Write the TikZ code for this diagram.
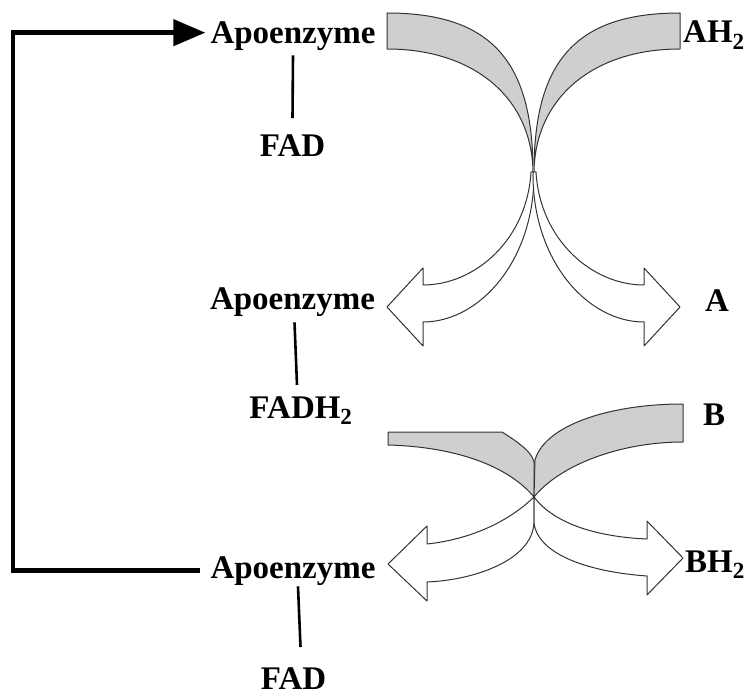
\documentclass[tikz,border=0pt]{standalone}
\usepackage{fontspec}
\setmainfont{Liberation Serif}
\usetikzlibrary{arrows.meta}
\begin{document}
\begin{tikzpicture}[x=1pt,y=-1pt,
  lbl/.style={inner sep=0pt, anchor=base, font=\fontsize{33}{40}\selectfont\bfseries},
  rlbl/.style={lbl, anchor=base west},
  bond/.style={line width=2.6pt},
  loopline/.style={line width=4.5pt},
  band/.style={draw=black!80, line width=1pt, fill=black!19, line join=round},
  hollow/.style={draw=black!80, line width=1pt, fill=white, line join=round}]
\useasboundingbox (0,0) rectangle (745,695);

% labels
\node[lbl] (apoA) at (293,44) {Apoenzyme};
\node[lbl] (fadA) at (292.5,157) {FAD};
\node[lbl] (apoB) at (292.5,310) {Apoenzyme};
\node[lbl] (fadhB) at (301,418) {FADH\textsubscript{2}};
\node[lbl] (apoC) at (293,578) {Apoenzyme};
\node[lbl] (fadC) at (293.5,689) {FAD};
\node[rlbl] (ah2) at (683,43) {AH\textsubscript{2}};
\node[rlbl] (a) at (705,312) {A};
\node[rlbl] (b) at (703,425) {B};
\node[rlbl] (bh2) at (685,572) {BH\textsubscript{2}};

% bonds
\draw[bond] ([yshift=-4pt]apoA.south) -- ([yshift=17pt]fadA.north);
\draw[bond] ([xshift=2pt,yshift=-5pt]apoB.south) -- ([xshift=-4pt,yshift=11pt]fadhB.north);
\draw[bond] ([xshift=5pt,yshift=-1pt]apoC.south) -- ([xshift=7pt,yshift=20pt]fadC.north);

% feedback loop
\coordinate (loopL) at (13,300);
\coordinate (startC) at ([xshift=-10pt]apoC.west);
\coordinate (tipA) at ([xshift=-5pt,yshift=4pt]apoA.west);
\draw[loopline, -{Triangle[length=32pt,width=26pt]}]
  (startC) -- (loopL |- startC) -- (loopL |- tipA) -- (tipA);

% top crossing arrows
\filldraw[band] (387,13) .. controls (492,13) and (533,62) .. (533,172)
  .. controls (532,98) and (474,49) .. (387,49) -- cycle;
\filldraw[band] (680,13) .. controls (575,13) and (534,62) .. (534,172)
  .. controls (535,98) and (593,49) .. (680,49) -- cycle;
\filldraw[hollow] (534,172) .. controls (535,260) and (480,322) .. (423,322)
  -- (423,346) -- (387,307) -- (423,268) -- (423,285)
  .. controls (475,285) and (527,240) .. (531,172) -- cycle;
\filldraw[hollow] (533,172) .. controls (532,260) and (587,322) .. (644,322)
  -- (644,346) -- (680,307) -- (644,268) -- (644,285)
  .. controls (592,285) and (540,240) .. (536,172) -- cycle;

% bottom crossing arrows
\filldraw[band] (388,432) -- (502,432) .. controls (518,442) and (532,452) .. (534,462)
  -- (534,497) .. controls (510,468) and (460,447) .. (388,445) -- cycle;
\filldraw[band] (683,404) .. controls (610,404) and (545,425) .. (535,460)
  -- (534,497) .. controls (560,465) and (620,442) .. (683,442) -- cycle;
\filldraw[hollow] (534,497) .. controls (505,525) and (465,540) .. (427,544)
  -- (427,526) -- (388,564) -- (427,601) -- (427,582)
  .. controls (475,580) and (532,560) .. (534,523) -- cycle;
\filldraw[hollow] (534,497) .. controls (555,525) and (600,537) .. (647,539)
  -- (647,521) -- (683,558) -- (647,595) -- (647,576)
  .. controls (590,572) and (538,555) .. (534,523) -- cycle;
\end{tikzpicture}
\end{document}
